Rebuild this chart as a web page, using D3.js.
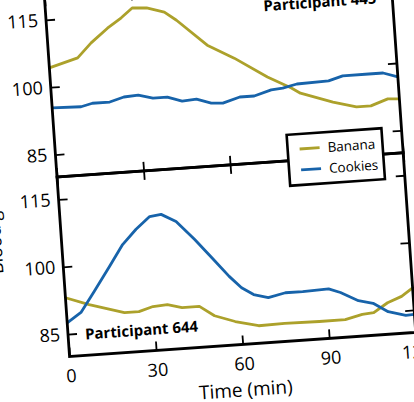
<!DOCTYPE html>
<html lang="en">
<head>
    <meta charset="UTF-8">
    <title>Blood glucose - banana vs cookies</title>
    <style>
        body { margin: 0; background: #fff; }
        text { font-family: "Open Sans", sans-serif; fill: #000; }
    </style>
    <script type="text/javascript" src="https://d3js.org/d3.v7.min.js"></script>
</head>
<body>
    <script type="text/javascript">

       // participant 445
       var t445Banana = [0, 10, 15, 21, 26, 30, 35, 41, 45, 55, 64, 75, 83, 86, 97, 105, 110, 116, 120];
       var v445Banana = [104.3, 106.1, 109.2, 112.2, 114.3, 116.3, 116.1, 114.9, 112.9, 106.9, 103.6, 98.9, 96.1, 94.8, 92.3, 90.9, 90.9, 92.2, 92.0];
       var t445Cookies = [0, 10, 14, 20, 25, 30, 35, 40, 45, 50, 55, 59, 65, 70, 76, 80, 85, 96, 101, 110, 115, 120];
       var v445Cookies = [95.4, 95.2, 95.8, 95.8, 96.7, 96.9, 96.0, 96.0, 94.9, 95.1, 94.0, 93.8, 94.9, 94.9, 96.0, 96.2, 96.9, 97.1, 98.0, 98.0, 98.0, 96.9];

       // participant 644
       var t644Banana = [0, 8, 20, 25, 30, 35, 40, 46, 51, 58, 66, 75, 87, 96, 102, 106, 111, 116, 120];
       var v644Banana = [93.1, 91.2, 88.9, 88.9, 89.8, 90.0, 89.1, 89.1, 86.8, 85.2, 83.9, 84.0, 83.9, 83.9, 84.8, 85.0, 87.0, 88.2, 89.9];
       var t644Cookies = [0, 5, 10, 16, 21, 26, 31, 35, 40, 46, 52, 57, 61, 65, 70, 76, 82, 91, 95, 101, 106, 111, 117, 120];
       var v644Cookies = [87.5, 89.6, 94.0, 99.4, 104.0, 107.2, 109.8, 110.1, 108.3, 104.0, 99.3, 95.3, 92.6, 90.9, 90.0, 90.8, 90.8, 91.0, 90.0, 87.9, 87.1, 85.0, 83.9, 84.0];

       var xTicks = [0, 30, 60, 90, 120];
       var yTicks = [85, 100, 115];
       var seriesNames = ["Banana", "Cookies"];
       var colors = ["#aca12b", "#1763aa"];

       var panels = [
           {label: "Participant 445", series: [[t445Banana, v445Banana], [t445Cookies, v445Cookies]]},
           {label: "Participant 644", series: [[t644Banana, v644Banana], [t644Cookies, v644Cookies]]}
       ];

       var width = 414, height = 402;
       var W = 347, H = 180, tick = 9;

       var xScale = d3.scaleLinear().domain([0, 120]).range([0, W]);
       var yScale = d3.scaleLinear().domain([80, 120]).range([H, 0]);

       var svg = d3.select("body")
                   .append("svg")
                   .attr("width", width)
                   .attr("height", height);

       // the whole figure sits slightly tilted
       var g = svg.append("g")
                  .attr("transform", "translate(57,177) rotate(-4)");

       var line = d3.line()
                    .x(function(d){ return xScale(d[0]); })
                    .y(function(d){ return yScale(d[1]); });

       panels.forEach(function(p, k){
           var pg = g.append("g").attr("transform", "translate(0," + (k === 0 ? -H : 0) + ")");

           p.series.forEach(function(s, i){
               var pts = s[0].map(function(t, j){ return [t, s[1][j]]; });
               pg.append("path")
                 .attr("d", line(pts))
                 .attr("fill", "none")
                 .attr("stroke", colors[i])
                 .attr("stroke-width", 2.8)
                 .attr("stroke-linejoin", "round");
           });

           var left = d3.axisLeft(yScale).tickValues(yTicks).tickSizeInner(-tick).tickSizeOuter(0).tickPadding(8);
           var right = d3.axisRight(yScale).tickValues(yTicks).tickSizeInner(-tick).tickSizeOuter(0).tickFormat("");
           var top = d3.axisTop(xScale).tickValues(xTicks).tickSizeInner(-tick).tickSizeOuter(0).tickFormat("");
           var bottom = d3.axisBottom(xScale).tickValues(xTicks).tickSizeInner(-tick).tickSizeOuter(0).tickPadding(13);
           if (k === 0) bottom.tickFormat("");

           var axes = [
               pg.append("g").call(left),
               pg.append("g").attr("transform", "translate(" + W + ",0)").call(right),
               pg.append("g").call(top),
               pg.append("g").attr("transform", "translate(0," + H + ")").call(bottom)
           ];
           axes.forEach(function(a){
               a.select(".domain").remove();
               a.selectAll("line").attr("stroke", "#000").attr("stroke-width", 1.8);
               a.selectAll("text").attr("font-size", 18).attr("font-family", "Open Sans");
           });

           pg.append("rect")
             .attr("width", W).attr("height", H)
             .attr("fill", "none").attr("stroke", "#000").attr("stroke-width", 2.8);

           if (k === 0) {
               pg.append("text").attr("x", 331).attr("y", 29)
                 .attr("text-anchor", "end").attr("font-size", 15).attr("font-weight", "bold")
                 .text(p.label);
           } else {
               pg.append("text").attr("x", 17).attr("y", 164)
                 .attr("font-size", 15).attr("font-weight", "bold")
                 .text(p.label);
           }
       });

       g.append("text")
        .attr("x", W / 2).attr("y", 232)
        .attr("text-anchor", "middle").attr("font-size", 19)
        .text("Time (min)");

       g.append("text")
        .attr("transform", "translate(-60,0) rotate(-90)")
        .attr("text-anchor", "middle").attr("font-size", 18)
        .text("Blood glucose (mg/dL)");

       // legend straddles the two panels
       var legend = g.append("g").attr("transform", "translate(232,-26)");
       legend.append("rect")
             .attr("width", 95).attr("height", 51)
             .attr("fill", "#fff").attr("stroke", "#000").attr("stroke-width", 2.6);
       seriesNames.forEach(function(name, i){
           legend.append("line")
                 .attr("x1", 12).attr("x2", 32)
                 .attr("y1", 15 + i * 21).attr("y2", 15 + i * 21)
                 .attr("stroke", colors[i]).attr("stroke-width", 2.8);
           legend.append("text")
                 .attr("x", 40).attr("y", 20 + i * 21)
                 .attr("font-size", 13.5)
                 .text(name);
       });

    </script>
</body>
</html>
